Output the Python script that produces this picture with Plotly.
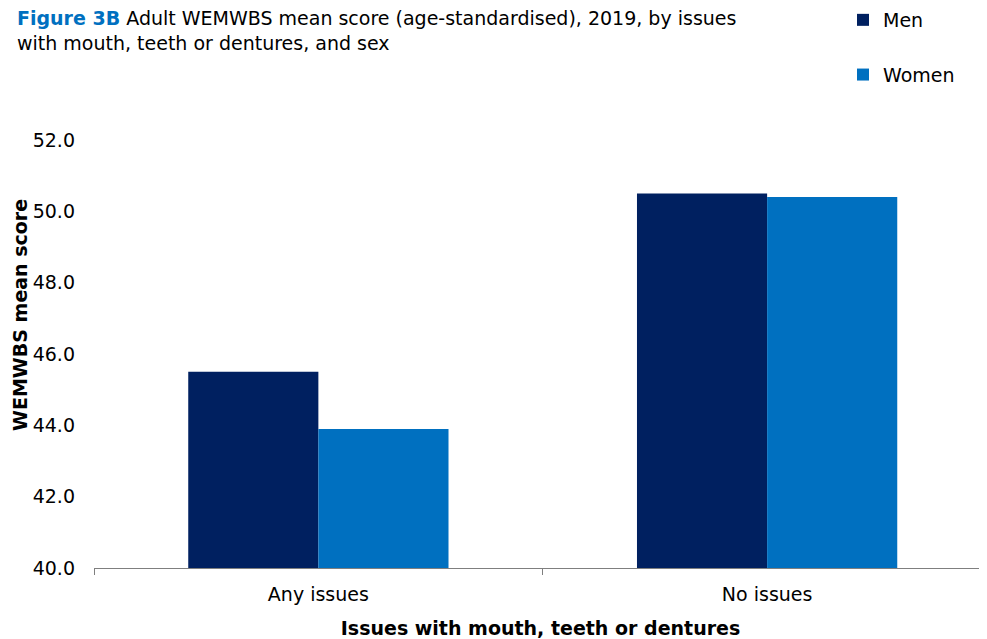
import plotly.graph_objects as go

categories = ["Any issues", "No issues"]
men = [45.5, 50.5]
women = [43.9, 50.4]
y_ticks = [40, 42, 44, 46, 48, 50, 52]

FONT = "DejaVu Sans"
OFF = 8   # page body margin offset
PW = 893  # plot width in px
PH = 428  # plot height in px

fig = go.Figure()
fig.add_trace(go.Bar(name="Men", x=categories, y=men, marker_color="#002060",
                     legendgroup="m", marker_line_width=0))
fig.add_trace(go.Bar(name="Women", x=categories, y=women, marker_color="#0070C0",
                     legendgroup="w", marker_line_width=0))

fig.update_layout(
    width=987 - OFF, height=639 - OFF,
    margin=dict(l=94 - OFF, r=0, t=140 - OFF, b=71, autoexpand=False),
    paper_bgcolor="white", plot_bgcolor="white",
    barmode="group", bargap=0.42, bargroupgap=0,
    font=dict(family=FONT, size=19, color="#000000"),
    showlegend=True,
    legend=dict(x=(843 - 94) / PW, xref="paper", y=1 + 139 / PH, yref="paper",
                xanchor="left", yanchor="top",
                font=dict(size=19), tracegroupgap=27, itemwidth=30,
                bgcolor="rgba(0,0,0,0)", traceorder="grouped"),
)

fig.add_annotation(
    text="<b><span style='color:#0070C0'>Figure 3B</span></b> Adult WEMWBS mean score (age-standardised), 2019, by issues<br>with mouth, teeth or dentures, and sex",
    xref="paper", yref="paper", x=(15 - 94) / PW, y=1 + 135 / PH,
    xanchor="left", yanchor="top", align="left", showarrow=False,
    font=dict(family=FONT, size=19, color="#000000"),
)

# y-axis title (placed as annotation to match the reference's off-centre position)
fig.add_annotation(
    text="<b>WEMWBS mean score</b>", textangle=-90,
    xref="paper", yref="paper", x=(20 - 94) / PW, y=(568 - 315) / PH,
    xanchor="center", yanchor="middle", showarrow=False,
    font=dict(family=FONT, size=19, color="#000000"),
)

fig.update_xaxes(
    range=[-0.5, 1.49], showline=True, linecolor="#7f7f7f", linewidth=1,
    ticks="outside", tickson="boundaries", ticklen=6, tickcolor="#7f7f7f",
    showgrid=False, tickfont=dict(size=19), automargin=False, ticklabelstandoff=9,
    title=dict(text="<b>Issues with mouth, teeth or dentures</b>", font=dict(size=19), standoff=18),
)
fig.update_yaxes(
    range=[40, 52], tickvals=y_ticks, ticktext=[f"{v:.1f}" for v in y_ticks],
    showline=False, showgrid=False, zeroline=False, ticks="", ticklabelstandoff=18,
    tickfont=dict(size=19), automargin=False,
)

fig.write_html("out.html")
